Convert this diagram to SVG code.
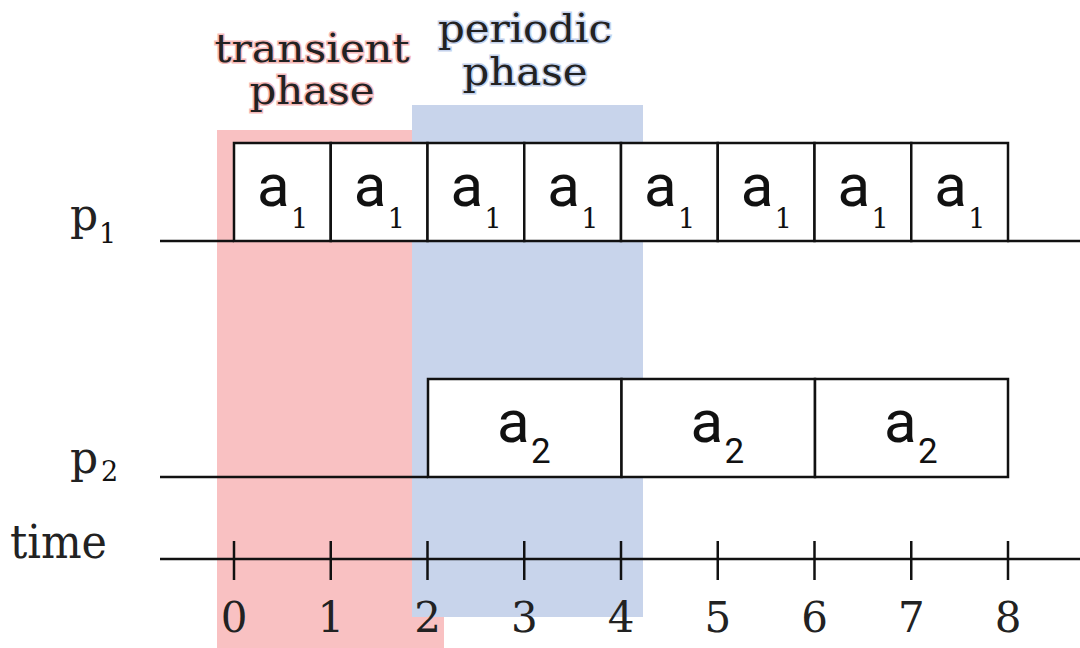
<svg xmlns="http://www.w3.org/2000/svg" width="1080" height="648" viewBox="0 0 1080 648">
<style>
.ln{stroke:#111;stroke-width:2.5;fill:none}
.box{fill:#fff;stroke:#111;stroke-width:2.5}
.serif{font-family:"DejaVu Serif","Liberation Serif",serif;fill:#222}
.a{font-family:Roboto,"Liberation Sans",sans-serif;font-size:60px;fill:#111}
.s1{font-family:"DejaVu Serif","Liberation Serif",serif;font-size:27px;fill:#111}
.s2{font-family:Roboto,"Liberation Sans",sans-serif;font-size:35px;fill:#111}
.num{font-family:"DejaVu Serif","Liberation Serif",serif;font-size:42px;fill:#222;text-anchor:middle}
.hp{stroke:#f5b9b9;stroke-width:3;paint-order:stroke}
.hb{stroke:#c5d2ec;stroke-width:3;paint-order:stroke}
</style>
<g id="phases">
<rect x="217" y="130" width="227" height="518" fill="#f9c1c2"/>
<rect x="412" y="105" width="231" height="512" fill="#c8d4eb"/>
</g>
<g id="phase-labels">
<text class="serif hp" x="312" y="62" font-size="40" text-anchor="middle" textLength="195" lengthAdjust="spacingAndGlyphs">transient</text>
<text class="serif hp" x="312" y="104" font-size="40" text-anchor="middle" textLength="125" lengthAdjust="spacingAndGlyphs">phase</text>
<text class="serif hb" x="525" y="42" font-size="40" text-anchor="middle" textLength="174" lengthAdjust="spacingAndGlyphs">periodic</text>
<text class="serif hb" x="525" y="85" font-size="40" text-anchor="middle" textLength="125" lengthAdjust="spacingAndGlyphs">phase</text>
</g>
<g id="connectors">
<line class="ln" x1="160" y1="241" x2="234" y2="241"/>
<line class="ln" x1="1007" y1="241" x2="1080" y2="241"/>
<line class="ln" x1="160" y1="477" x2="428" y2="477"/>
<line class="ln" x1="160" y1="559" x2="1080" y2="559"/>
</g>
<g id="p1">
<text class="serif" x="70" y="230" font-size="44">p</text>
<text class="s1" x="99" y="243">1</text>
<g id="p1-boxes">
<rect class="box" x="234" y="143" width="96.75" height="98"/>
<rect class="box" x="330.75" y="143" width="96.75" height="98"/>
<rect class="box" x="427.5" y="143" width="96.75" height="98"/>
<rect class="box" x="524.25" y="143" width="96.75" height="98"/>
<rect class="box" x="621" y="143" width="96.75" height="98"/>
<rect class="box" x="717.75" y="143" width="96.75" height="98"/>
<rect class="box" x="814.5" y="143" width="96.75" height="98"/>
<rect class="box" x="911.25" y="143" width="96.75" height="98"/>
</g>
<g id="p1-labels">
<text class="a" x="257" y="206">a</text><text class="s1" x="291" y="228">1</text>
<text class="a" x="353.75" y="206">a</text><text class="s1" x="387.75" y="228">1</text>
<text class="a" x="450.5" y="206">a</text><text class="s1" x="484.5" y="228">1</text>
<text class="a" x="547.25" y="206">a</text><text class="s1" x="581.25" y="228">1</text>
<text class="a" x="644" y="206">a</text><text class="s1" x="678" y="228">1</text>
<text class="a" x="740.75" y="206">a</text><text class="s1" x="774.75" y="228">1</text>
<text class="a" x="837.5" y="206">a</text><text class="s1" x="871.5" y="228">1</text>
<text class="a" x="934.25" y="206">a</text><text class="s1" x="968.25" y="228">1</text>
</g>
</g>
<g id="p2">
<text class="serif" x="70" y="473" font-size="44">p</text>
<text class="s1" x="101" y="481">2</text>
<g id="p2-boxes">
<rect class="box" x="428" y="379" width="193.5" height="98"/>
<rect class="box" x="621.5" y="379" width="193.5" height="98"/>
<rect class="box" x="815" y="379" width="193" height="98"/>
</g>
<g id="p2-labels">
<text class="a" x="497" y="442">a</text><text class="s2" x="531" y="463">2</text>
<text class="a" x="690.5" y="442">a</text><text class="s2" x="724.5" y="463">2</text>
<text class="a" x="884" y="442">a</text><text class="s2" x="918" y="463">2</text>
</g>
</g>
<g id="time">
<text class="serif" x="10" y="558" font-size="46" textLength="97" lengthAdjust="spacingAndGlyphs">time</text>
<g id="ticks">
<line class="ln" x1="234" y1="541" x2="234" y2="580"/>
<line class="ln" x1="330.75" y1="541" x2="330.75" y2="580"/>
<line class="ln" x1="427.5" y1="541" x2="427.5" y2="580"/>
<line class="ln" x1="524.25" y1="541" x2="524.25" y2="580"/>
<line class="ln" x1="621" y1="541" x2="621" y2="580"/>
<line class="ln" x1="717.75" y1="541" x2="717.75" y2="580"/>
<line class="ln" x1="814.5" y1="541" x2="814.5" y2="580"/>
<line class="ln" x1="911.25" y1="541" x2="911.25" y2="580"/>
<line class="ln" x1="1008" y1="541" x2="1008" y2="580"/>
</g>
<g id="tick-labels">
<text class="num" x="234" y="632">0</text>
<text class="num" x="330.75" y="632">1</text>
<text class="num" x="427.5" y="632">2</text>
<text class="num" x="524.25" y="632">3</text>
<text class="num" x="621" y="632">4</text>
<text class="num" x="717.75" y="632">5</text>
<text class="num" x="814.5" y="632">6</text>
<text class="num" x="911.25" y="632">7</text>
<text class="num" x="1008" y="632">8</text>
</g>
</g>
</svg>
